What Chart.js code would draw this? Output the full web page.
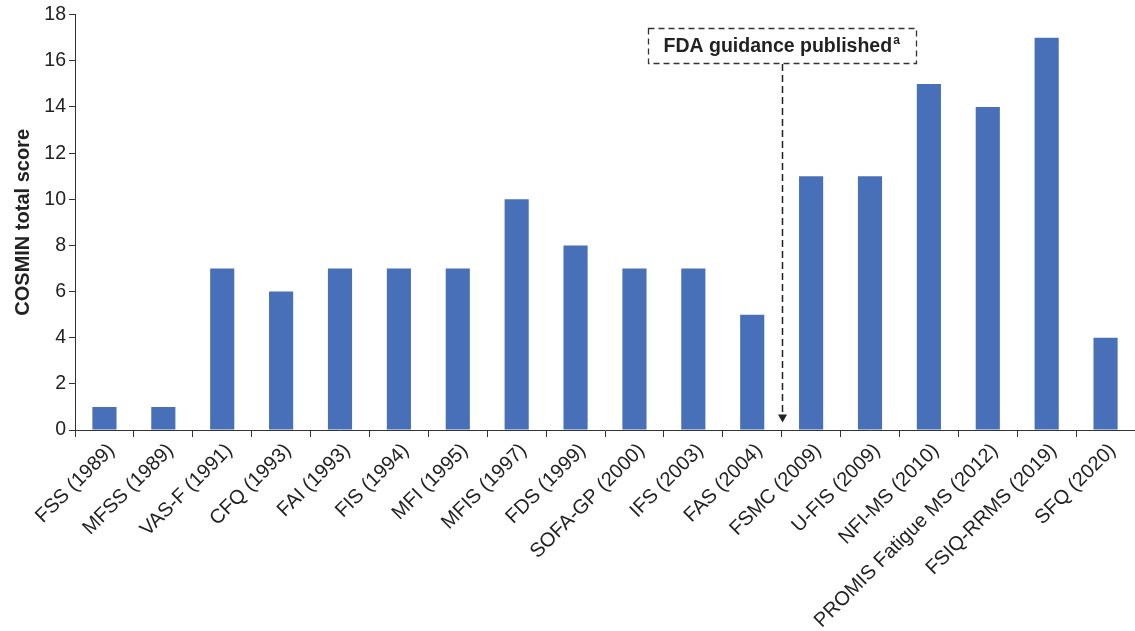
<!DOCTYPE html>
<html>
<head>
<meta charset="utf-8">
<script src="https://cdn.jsdelivr.net/npm/chart.js@4.4.1/dist/chart.umd.min.js"></script>
<style>
  html, body { margin: 0; padding: 0; background: #ffffff; }
  #wrap { width: 1135px; height: 631px; }
</style>
</head>
<body>
<div id="wrap"><canvas id="c" width="1135" height="631"></canvas></div>
<script>
const categories = [
  "FSS (1989)", "MFSS (1989)", "VAS-F (1991)", "CFQ (1993)", "FAI (1993)",
  "FIS (1994)", "MFI (1995)", "MFIS (1997)", "FDS (1999)", "SOFA-GP (2000)",
  "IFS (2003)", "FAS (2004)", "FSMC (2009)", "U-FIS (2009)", "NFI-MS (2010)",
  "PROMIS Fatigue MS (2012)", "FSIQ-RRMS (2019)", "SFQ (2020)"
];
const scores = [1, 1, 7, 6, 7, 7, 7, 10, 8, 7, 7, 5, 11, 11, 15, 14, 17, 4];
const yTicks = [0, 2, 4, 6, 8, 10, 12, 14, 16, 18];
const yTitle = "COSMIN total score";
const annotationText = "FDA guidance published";
const annotationSup = "a";
// annotation sits between these two categories
const annotationBetween = [11, 12];

const FONT = "'Liberation Sans', Arial, sans-serif";
const TEXT = "#222222";
const AXIS = "#333333";

const fdaPlugin = {
  id: "fdaAnnotation",
  afterDraw(chart) {
    const ctx = chart.ctx;
    const x = chart.scales.x, y = chart.scales.y;
    const xm = (x.getPixelForValue(annotationBetween[0]) + x.getPixelForValue(annotationBetween[1])) / 2;
    ctx.save();
    ctx.font = "bold 19.5px " + FONT;
    const tw = ctx.measureText(annotationText).width;
    ctx.font = "bold 12px " + FONT;
    const sw = ctx.measureText(annotationSup).width;
    const total = tw + sw + 1;
    const padX = 16;
    const boxTop = y.getPixelForValue(17.42);
    const boxH = 35;
    const boxL = xm - total / 2 - padX;
    const boxW = total + padX * 2;
    // box
    ctx.strokeStyle = "#333333";
    ctx.lineWidth = 1.3;
    ctx.setLineDash([6, 4]);
    ctx.strokeRect(Math.round(boxL) + 0.5, Math.round(boxTop) + 0.5, Math.round(boxW), boxH);
    // text
    ctx.setLineDash([]);
    ctx.fillStyle = TEXT;
    ctx.textBaseline = "middle";
    ctx.textAlign = "left";
    ctx.font = "bold 19.5px " + FONT;
    const tx = xm - total / 2;
    const ty = boxTop + boxH / 2 + 1;
    ctx.fillText(annotationText, tx, ty);
    ctx.font = "bold 12px " + FONT;
    ctx.fillText(annotationSup, tx + tw + 1, ty - 6);
    // dashed arrow
    const tipY = y.getPixelForValue(0.32);
    const headH = 8;
    ctx.strokeStyle = "#222222";
    ctx.lineWidth = 1.5;
    ctx.setLineDash([7, 4]);
    ctx.beginPath();
    const lx = Math.round(xm) + 0.5;
    ctx.moveTo(lx, boxTop + boxH + 1);
    ctx.lineTo(lx, tipY - headH);
    ctx.stroke();
    ctx.setLineDash([]);
    ctx.fillStyle = "#222222";
    ctx.beginPath();
    ctx.moveTo(lx - 4.5, tipY - headH);
    ctx.lineTo(lx + 4.5, tipY - headH);
    ctx.lineTo(lx, tipY);
    ctx.closePath();
    ctx.fill();
    ctx.restore();
  }
};

new Chart(document.getElementById("c"), {
  type: "bar",
  data: {
    labels: categories,
    datasets: [{
      data: scores,
      backgroundColor: "#4870B8",
      borderWidth: 0,
      barPercentage: 0.41,
      categoryPercentage: 1.0
    }]
  },
  options: {
    responsive: false,
    animation: false,
    devicePixelRatio: 1,
    layout: { padding: { top: 8, right: 0, left: 0, bottom: 0 } },
    plugins: {
      legend: { display: false },
      tooltip: { enabled: false }
    },
    scales: {
      x: {
        type: "category",
        offset: true,
        grid: {
          offset: true,
          drawOnChartArea: false,
          drawTicks: true,
          tickLength: 7,
          color: AXIS,
          lineWidth: 1
        },
        border: { display: true, color: AXIS, width: 1 },
        ticks: {
          autoSkip: false,
          maxRotation: 45,
          minRotation: 45,
          padding: 2,
          labelOffset: 7,
          color: TEXT,
          font: { family: FONT, size: 20 }
        },
        afterFit(scale) { scale.height = 201; }
      },
      y: {
        min: 0,
        max: 18,
        afterBuildTicks(scale) { scale.ticks = yTicks.map(v => ({ value: v })); },
        grid: {
          drawOnChartArea: false,
          drawTicks: true,
          tickLength: 6,
          color: AXIS,
          lineWidth: 1
        },
        border: { display: true, color: AXIS, width: 1 },
        ticks: {
          padding: 3,
          color: TEXT,
          font: { family: FONT, size: 19.5 }
        },
        title: {
          display: true,
          text: yTitle,
          color: TEXT,
          font: { family: FONT, size: 20, weight: "bold" },
          padding: { top: 11, bottom: 4 }
        },
        afterFit(scale) { scale.width = 75; }
      }
    }
  },
  plugins: [fdaPlugin]
});
</script>
</body>
</html>
